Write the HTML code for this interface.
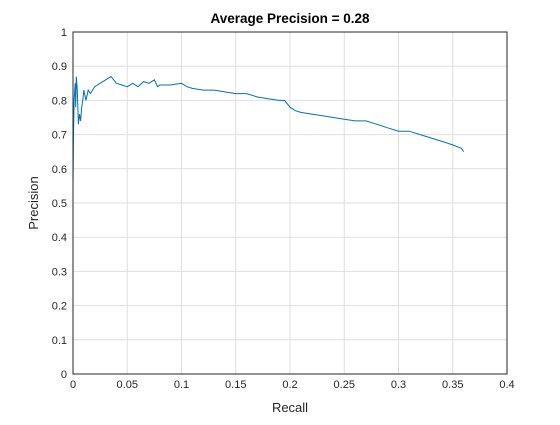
<!DOCTYPE html>
<html><head><meta charset="utf-8"><style>
body{margin:0;background:#fff;font-family:"Liberation Sans",sans-serif}
</style></head><body>
<svg id="chart" width="560" height="420" xmlns="http://www.w3.org/2000/svg">
<rect width="560" height="420" fill="#fff"/>
<g id="grid"></g><g id="ticks"></g>
<path id="line" fill="none" stroke="#0072bd" stroke-width="1"/>
<rect x="73" y="32" width="434" height="342" fill="none" stroke="#262626" stroke-width="1"/>
<text x="290" y="23" text-anchor="middle" font-size="13.5" font-weight="bold" fill="#000">Average Precision = 0.28</text>
<text x="290" y="412" text-anchor="middle" font-size="13" fill="#262626">Recall</text>
<text transform="translate(38,203) rotate(-90)" text-anchor="middle" font-size="13" fill="#262626">Precision</text>
</svg>
<script>
const recall=[0,0.0005,0.001,0.002,0.0025,0.003,0.004,0.005,0.006,0.007,0.008,0.009,0.01,0.012,0.014,0.016,0.02,0.025,0.03,0.035,0.04,0.045,0.05,0.055,0.06,0.065,0.07,0.075,0.078,0.08,0.09,0.1,0.105,0.11,0.12,0.13,0.14,0.15,0.16,0.17,0.18,0.19,0.195,0.2,0.205,0.21,0.22,0.23,0.24,0.25,0.26,0.27,0.28,0.29,0.3,0.31,0.32,0.33,0.34,0.35,0.358,0.36];
const precision=[0.55,0.7,0.8,0.85,0.78,0.87,0.83,0.73,0.76,0.74,0.78,0.8,0.83,0.8,0.83,0.82,0.84,0.85,0.86,0.87,0.85,0.845,0.84,0.85,0.84,0.855,0.85,0.86,0.84,0.845,0.845,0.85,0.84,0.835,0.83,0.83,0.825,0.82,0.82,0.81,0.805,0.8,0.8,0.78,0.77,0.765,0.76,0.755,0.75,0.745,0.74,0.74,0.73,0.72,0.71,0.71,0.7,0.69,0.68,0.67,0.66,0.65];
const xTicks=[0,0.05,0.1,0.15,0.2,0.25,0.3,0.35,0.4];
const xTickLabels=["0","0.05","0.1","0.15","0.2","0.25","0.3","0.35","0.4"];
const yTicks=[0,0.1,0.2,0.3,0.4,0.5,0.6,0.7,0.8,0.9,1];
const yTickLabels=["0","0.1","0.2","0.3","0.4","0.5","0.6","0.7","0.8","0.9","1"];
const X=v=>73+v/0.4*434, Y=v=>374-v*342;
const NS="http://www.w3.org/2000/svg";
const grid=document.getElementById('grid'), ticks=document.getElementById('ticks');
function mk(tag,attrs,parent){const e=document.createElementNS(NS,tag);for(const k in attrs)e.setAttribute(k,attrs[k]);parent.appendChild(e);return e;}
xTicks.forEach((t,i)=>{
  const l=mk('line',{x1:X(t),x2:X(t),y1:32,y2:374,stroke:'#dfdfdf'},grid);
  
  
  const tx=mk('text',{x:X(t),y:388,'text-anchor':'middle','font-size':11,fill:'#262626'},ticks);
  tx.textContent=xTickLabels[i];
  
  
});
yTicks.forEach((t,i)=>{
  const l=mk('line',{x1:73,x2:507,y1:Y(t),y2:Y(t),stroke:'#dfdfdf'},grid);
  
  
  const tx=mk('text',{x:67,y:Y(t)+4,'text-anchor':'end','font-size':11,fill:'#262626'},ticks);
  tx.textContent=yTickLabels[i];
  
  
});
document.getElementById('line').setAttribute('d',recall.map((r,i)=>(i?'L':'M')+X(r).toFixed(1)+','+Y(precision[i]).toFixed(1)).join(''));
</script>
</body></html>
